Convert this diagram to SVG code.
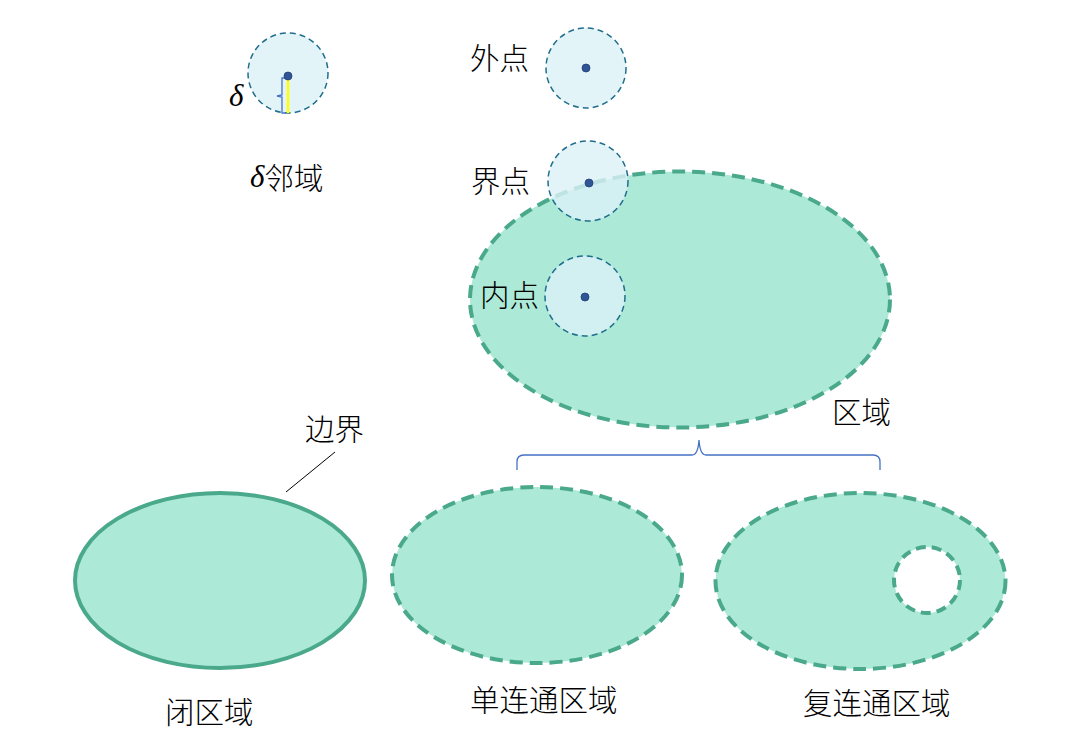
<svg xmlns="http://www.w3.org/2000/svg" width="1065" height="755" viewBox="0 0 1065 755">
<style>
text{font-family:"Noto Sans CJK SC","Liberation Sans",sans-serif;font-size:29.5px;font-weight:300;fill:#000;dominant-baseline:central}
.greek{font-family:"Liberation Serif","DejaVu Serif",serif;font-style:italic;font-size:31px;font-weight:normal}
.region{fill:#ace9d7;stroke:#4aa98a;stroke-width:4}
.open{stroke-dasharray:13 7}
.nb{fill:#dcf1f7;fill-opacity:0.8;stroke:#1f6e8c;stroke-width:1.5;stroke-dasharray:6 4}
.dot{fill:#2f5597;stroke:#1f3f75;stroke-width:0.8}
.thin{fill:none;stroke:#4472c4;stroke-width:1.3}
</style>
<rect width="1065" height="755" fill="#fff"/>
<g id="region">
<ellipse class="region open" cx="680" cy="299.5" rx="210" ry="128"/>
<text x="832" y="410">区域</text>
</g>
<g id="delta-neighborhood">
<circle class="nb" cx="288" cy="73" r="40"/>
<line x1="288" y1="78" x2="288" y2="113" stroke="#ffff00" stroke-width="2.5"/>
<path class="thin" d="M286 78 H282 V95 L277 96 L282 97 V113 H286" stroke-width="2"/>
<circle class="dot" cx="288" cy="76" r="4"/>
<text class="greek" x="229" y="95">δ</text>
<text x="250" y="176"><tspan class="greek">δ</tspan>邻域</text>
</g>
<g id="exterior-point">
<circle class="nb" cx="586" cy="68" r="40"/>
<circle class="dot" cx="586" cy="68" r="4"/>
<text x="470" y="56">外点</text>
</g>
<g id="boundary-point">
<circle class="nb" cx="588" cy="181" r="40" fill-opacity="0.65"/>
<circle class="dot" cx="589" cy="183" r="4"/>
<text x="471" y="179">界点</text>
</g>
<g id="interior-point">
<circle class="nb" cx="585" cy="296" r="40" fill-opacity="0.35"/>
<circle class="dot" cx="585" cy="297" r="4"/>
<text x="480" y="293">内点</text>
</g>
<g id="closed-region">
<ellipse class="region" cx="220" cy="580.5" rx="145" ry="87.5"/>
<text x="165" y="710">闭区域</text>
</g>
<g id="boundary-label">
<text x="305" y="427">边界</text>
</g>
<g id="simply-connected">
<ellipse class="region open" cx="537" cy="575" rx="145" ry="88"/>
<text x="470" y="698">单连通区域</text>
</g>
<g id="multiply-connected">
<ellipse class="region open" cx="860.5" cy="581" rx="145" ry="88"/>
<circle cx="927" cy="580" r="33" fill="#fff" stroke="#4aa98a" stroke-width="4" stroke-dasharray="10 6"/>
<text x="803" y="701">复连通区域</text>
</g>
<g id="connectors">
<line x1="335" y1="452" x2="286" y2="492" stroke="#000" stroke-width="1"/>
<path class="thin" d="M517 470 V462 Q517 455 524 455 H692 Q698 455 699 440 Q700 455 706 455 H873 Q880 455 880 462 V470"/>
</g>
</svg>
